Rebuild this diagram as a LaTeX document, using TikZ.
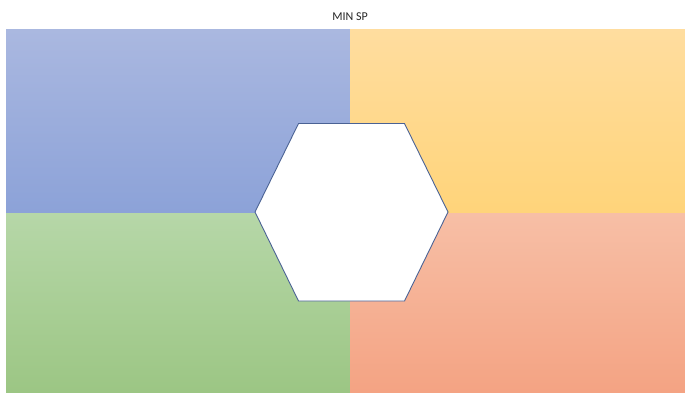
\documentclass[tikz,border=0pt]{standalone}
\usepackage{fontspec}
\setmainfont{Carlito}
\definecolor{tlA}{HTML}{AAB8E0}
\definecolor{tlB}{HTML}{8CA2D8}
\definecolor{trA}{HTML}{FFDD9F}
\definecolor{trB}{HTML}{FFD47A}
\definecolor{blA}{HTML}{B6D7A8}
\definecolor{blB}{HTML}{9CC684}
\definecolor{brA}{HTML}{F7BFA6}
\definecolor{brB}{HTML}{F4A383}
\definecolor{hexline}{HTML}{4A6294}
\tikzset{
  quad/.style={draw=none},
  hexa/.style={draw=hexline, line width=0.9pt, fill=white, line join=miter},
  titletext/.style={font=\fontsize{12}{14}\selectfont, text=black!85}
}
\begin{document}
\begin{tikzpicture}[x=1pt,y=-1pt]
\useasboundingbox (0,0) rectangle (685,392);
\fill[white] (0,0) rectangle (685,392);
\shade[quad, top color=tlA, bottom color=tlB] (6,29) rectangle (350,213);
\shade[quad, top color=trA, bottom color=trB] (350,29) rectangle (685,213);
\shade[quad, top color=blA, bottom color=blB] (6,213) rectangle (350,392);
\shade[quad, top color=brA, bottom color=brB] (350,213) rectangle (685,392);
\node[titletext] (title) at (350,17) {MIN SP};
\coordinate (h1) at (298.5,123.5);
\coordinate (h2) at (404.5,123.5);
\coordinate (h3) at (448,212);
\coordinate (h4) at (404.5,301);
\coordinate (h5) at (298.5,301);
\coordinate (h6) at (255,212);
\draw[hexa] (h1) -- (h2) -- (h3) -- (h4) -- (h5) -- (h6) -- cycle;
\end{tikzpicture}
\end{document}
